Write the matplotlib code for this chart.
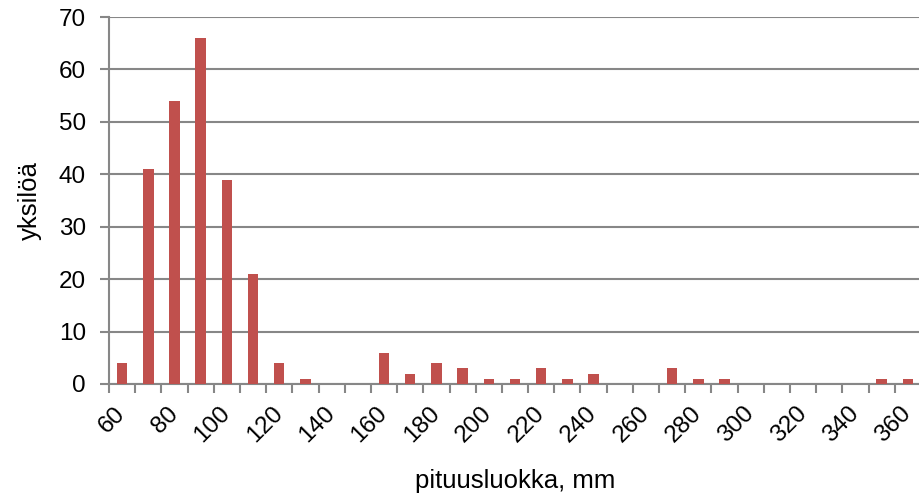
import matplotlib.pyplot as plt
import matplotlib.transforms as mtransforms
import numpy as np

# data ______________________________________________________________________
luokat = list(range(60, 370, 10))
yksiloa = [4, 41, 54, 66, 39, 21, 4, 1, 0, 0,
           6, 2, 4, 3, 1, 1, 3, 1, 2, 0,
           0, 3, 1, 1, 0, 0, 0, 0, 0, 1,
           1]
tick_labels = [str(v) for v in range(60, 370, 20)]

# plot ______________________________________________________________________
plt.rcParams['font.family'] = ['Liberation Sans', 'DejaVu Sans']
grey = '#878787'

fig = plt.figure(figsize=(9.2, 4.99), dpi=100)
ax = fig.add_axes([109 / 920, 1 - 384 / 499, 812 / 920, (384 - 17) / 499])

x = np.arange(len(luokat))
ax.bar(x, yksiloa, width=0.4, color='#C0504D', zorder=3)

ax.set_xlim(-0.5, len(luokat) - 0.5)
ax.set_ylim(0, 70)
ax.set_yticks(range(0, 71, 10))
ax.yaxis.grid(True, color=grey, linewidth=1.5, zorder=0)

# tick labels only every second category, tick marks at category boundaries
ax.set_xticks(x[::2])
ax.set_xticklabels(tick_labels, rotation=45, ha='right', va='center', rotation_mode='anchor')
offset = mtransforms.ScaledTranslation(-5 / 72, 0, fig.dpi_scale_trans)
for lab in ax.get_xticklabels():
    lab.set_transform(lab.get_transform() + offset)
ax.set_xticks(np.arange(-0.5, len(luokat), 1), minor=True)
ax.tick_params(axis='x', which='major', length=0, labelsize=17.5, pad=19)
ax.tick_params(axis='x', which='minor', length=6.5, width=1.5, color=grey)
ax.tick_params(axis='y', length=6.5, width=1.5, color=grey, labelsize=17.5, pad=10)

for s in ['top', 'right']:
    ax.spines[s].set_visible(False)
for s in ['left', 'bottom']:
    ax.spines[s].set_color(grey)
    ax.spines[s].set_linewidth(1.5)

ax.set_ylabel('yksilöä', fontsize=18.5, labelpad=12)
ax.set_xlabel('pituusluokka, mm', fontsize=18.5, labelpad=16)

fig.savefig('out.png', dpi=100)
